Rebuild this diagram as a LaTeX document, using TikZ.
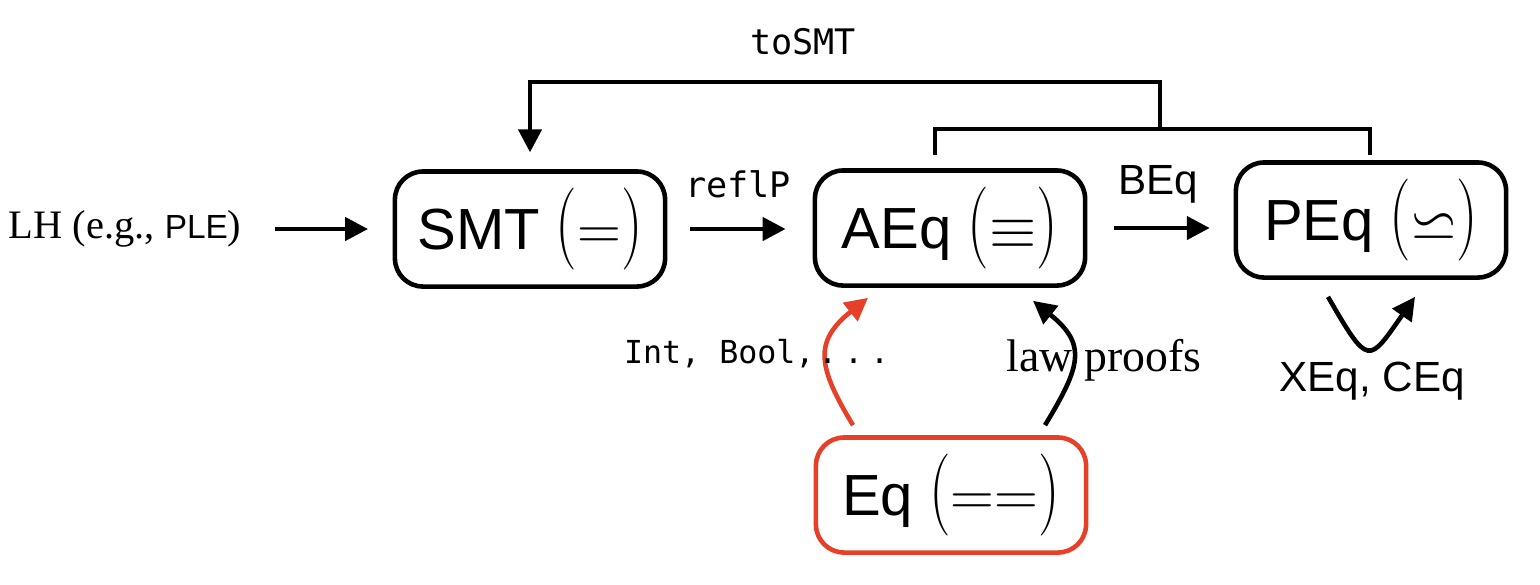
\documentclass[tikz,border=0pt]{standalone}
\usepackage{amssymb}
\usepackage{graphicx}
\usepackage{fontspec}
\setmainfont{Liberation Serif}
\setsansfont{Liberation Sans}
\setmonofont{DejaVu Sans Mono}
\usetikzlibrary{arrows.meta}
\definecolor{eqred}{RGB}{230,64,40}
\newcommand{\pizq}{\scalebox{1}[1.35]{$($}}
\newcommand{\pder}{\scalebox{1}[1.35]{$)$}}
\tikzset{
  caja/.style={draw, line width=1.3pt, rounded corners=8pt, minimum width=2.7cm,
    minimum height=1.15cm, inner sep=0pt, font=\fontsize{16.5}{18}\selectfont\sffamily},
  flecha/.style={line width=1.3pt, -{Triangle[length=6.5pt,width=6.5pt]}},
  linea/.style={line width=1.3pt},
  codigo/.style={inner sep=0pt, font=\fontsize{10}{12}\selectfont\ttfamily},
  texto/.style={inner sep=0pt, font=\fontsize{12}{14}\selectfont\sffamily},
}
\begin{document}
\begin{tikzpicture}[x=0.01cm, y=-0.01cm]
  \useasboundingbox (0,0) rectangle (1540,584);

  % Cajas
  \node[caja] (smt) at (530,229) {SMT \pizq$=$\pder};
  \node[caja] (aeq) at (950,228) {AEq \pizq$\equiv$\pder};
  \node[caja] (peq) at (1371,220) {PEq \pizq$\backsimeq$\pder};
  \node[caja, draw=eqred] (eq) at (951,495) {Eq \pizq$==$\pder};

  % Entrada
  \node[inner sep=0pt, anchor=west, font=\fontsize{11.5}{13}\selectfont] (lh) at (8,229)
    {LH (e.g., {\sffamily\fontsize{9.5}{11}\selectfont PLE})};
  \draw[flecha, shorten <=9.4pt, shorten >=7pt] (lh.east) -- (smt.west |- lh.east);

  % Flechas horizontales
  \draw[flecha, shorten <=6.5pt, shorten >=7.7pt] (smt.east) -- (aeq.west |- smt.east);
  \node[codigo] (reflp) at (738,184) {reflP};
  \draw[flecha, shorten <=7.7pt, shorten >=6.8pt] (aeq.east) -- (peq.west |- aeq.east);
  \node[texto] (beq) at (1158,184) {BEq};

  % Corchete y toSMT
  \coordinate (split) at (1160,129);
  \coordinate (aeqtop) at (935,155);
  \coordinate (peqtop) at (1370,155);
  \coordinate (arriba) at (1160,82);
  \draw[linea] (aeqtop) |- (split) -| (peqtop);
  \draw[flecha, shorten >=4.8pt] (split) -- (arriba) -| (smt.north);
  \node[codigo] (tosmt) at (803,42) {toSMT};

  % Flechas desde Eq
  \draw[flecha, eqred] ([shift={(-98,-10)}]eq.north)
    .. controls +(-35,-58) and +(-55,44) .. ([shift={(-82,10)}]aeq.south);
  \draw[flecha] ([shift={(94,-10)}]eq.north)
    .. controls +(35,-58) and +(55,44) .. ([shift={(83,13)}]aeq.south);
  \node[inner sep=0pt, anchor=east, font=\fontsize{9}{11}\selectfont\ttfamily] (tipos) at (890,354)
    {Int, Bool,\kern1pt.\kern2pt.\kern2pt.};
  \node[inner sep=0pt, font=\fontsize{13}{15}\selectfont] (leyes) at (1104,360) {law proofs};

  % Bucle en PEq
  \draw[flecha] ([shift={(-43,17)}]peq.south)
    to[out=-60, in=235, looseness=2.4] ([shift={(44,17)}]peq.south);
  \node[texto] (xeq) at (1372,381) {XEq, CEq};
\end{tikzpicture}
\end{document}
